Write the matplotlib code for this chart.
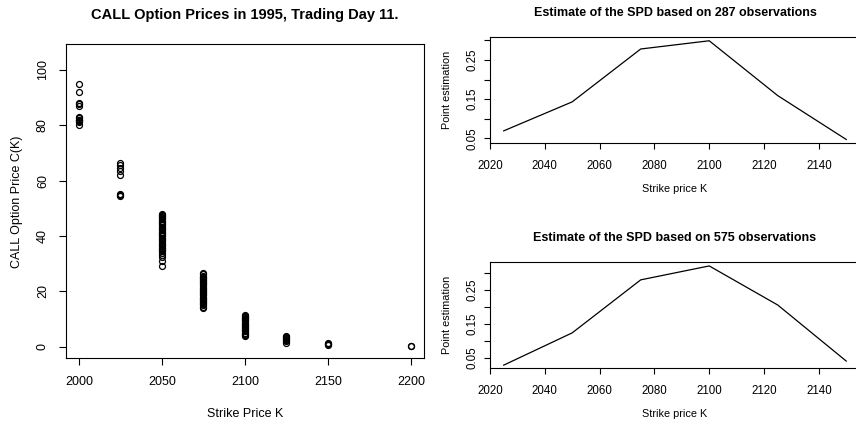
import matplotlib
matplotlib.use('Agg')
import matplotlib.pyplot as plt

plt.rcParams['font.family'] = ['Liberation Sans', 'DejaVu Sans']

# call prices by strike, trading day 11
strikes = [2000, 2025, 2050, 2075, 2100, 2125, 2150, 2200]
price_2000 = [95, 92, 88, 87.5, 87, 83, 82.5, 82, 81.8, 81.5, 81, 80]
price_2025 = [66.5, 65.5, 64.5, 63.5, 62, 55, 54.8, 54.5]
price_2050 = [48, 47.6, 47.2, 46.8, 46.4, 46, 45.5, 45, 44.6, 44.2, 43.8, 43.3,
              42.8, 42.4, 42, 41.5, 41, 40.6, 40.2, 39.8, 39.3, 38.8, 38.4, 38,
              37.5, 37, 36.6, 36.2, 35.8, 35.3, 34.8, 34.4, 34, 33.2, 32.5, 31, 29.2]
price_2075 = [26.5, 26.1, 25.7, 25.3, 24.9, 24.5, 24.1, 23.7, 23.3, 22.9, 22.5,
              22.1, 21.7, 21.3, 20.9, 20.5, 20.1, 19.7, 19.3, 18.9, 18.5, 18.1,
              17.7, 17.3, 16.9, 16.5, 16.1, 15.7, 15.3, 14.9, 14.5, 14.1]
price_2100 = [11.5, 11.1, 10.7, 10.3, 9.9, 9.5, 9.1, 8.7, 8.3, 7.9, 7.5, 7.1,
              6.7, 6.3, 5.9, 5.5, 5.1, 4.7, 4.3, 3.9]
price_2125 = [3.9, 3.5, 3.1, 2.7, 2.3, 1.9, 1.5]
price_2150 = [1.2, 1.0, 0.8, 0.6]
price_2200 = [0.2, 0.1]
prices = [price_2000, price_2025, price_2050, price_2075,
          price_2100, price_2125, price_2150, price_2200]

# SPD point estimates
spd_strikes = [2025, 2050, 2075, 2100, 2125, 2150]
spd_287 = [0.069, 0.143, 0.278, 0.299, 0.159, 0.047]
spd_575 = [0.028, 0.123, 0.279, 0.320, 0.205, 0.040]

fig = plt.figure(figsize=(8.56, 4.22), dpi=100)

# left: scatter of call prices
ax = fig.add_axes([0.0767, 0.1509, 0.4190, 0.7441])
for k, p in zip(strikes, prices):
    ax.plot([k] * len(p), p, 'o', mfc='none', mec='black', ms=4.3, mew=0.9, ls='none')
ax.set_xlim(1992, 2208)
ax.set_ylim(-4.2, 109.2)
ax.set_xticks([2000, 2050, 2100, 2150, 2200])
ax.set_yticks([0, 20, 40, 60, 80, 100])
ax.tick_params(direction='out', length=5, width=0.8, labelsize=9, pad=8)
ax.tick_params(axis='y', labelrotation=90, pad=7)
for lab in ax.get_yticklabels():
    lab.set_va('center')
for s in ax.spines.values():
    s.set_linewidth(0.8)
ax.set_title('CALL Option Prices in 1995, Trading Day 11.', fontsize=10.5,
             fontweight='bold', pad=18)
ax.set_xlabel('Strike Price K', fontsize=9, labelpad=14)
ax.set_ylabel('CALL Option Price C(K)', fontsize=9, labelpad=10)


def spd_panel(rect, y, nobs, ylim):
    a = fig.add_axes(rect)
    a.plot(spd_strikes, y, color='black', lw=0.9)
    a.set_xlim(2020, 2155)
    a.set_ylim(*ylim)
    a.set_xticks([2020, 2040, 2060, 2080, 2100, 2120, 2140])
    a.set_yticks([0.05, 0.10, 0.15, 0.20, 0.25, 0.30])
    a.set_yticklabels(['0.05', '', '0.15', '', '0.25', ''])
    a.tick_params(direction='out', length=4, width=0.8, labelsize=8.3, pad=8)
    a.tick_params(axis='y', labelrotation=90, pad=4)
    for lab in a.get_yticklabels():
        lab.set_va('center')
    for s in a.spines.values():
        s.set_linewidth(0.8)
    a.set_title(f'Estimate of the SPD based on {nobs} observations',
                fontsize=9, fontweight='bold', pad=15)
    a.set_xlabel('Strike price K', fontsize=7.8, labelpad=9)
    a.set_ylabel('Point estimation', fontsize=7.8, labelpad=11)
    return a


spd_panel([0.5724, 0.6604, 0.4322, 0.2519], spd_287, 287, (0.0372, 0.3086))
spd_panel([0.5724, 0.1273, 0.4322, 0.2518], spd_575, 575, (0.0188, 0.3315))

fig.savefig('out.png', dpi=100)
